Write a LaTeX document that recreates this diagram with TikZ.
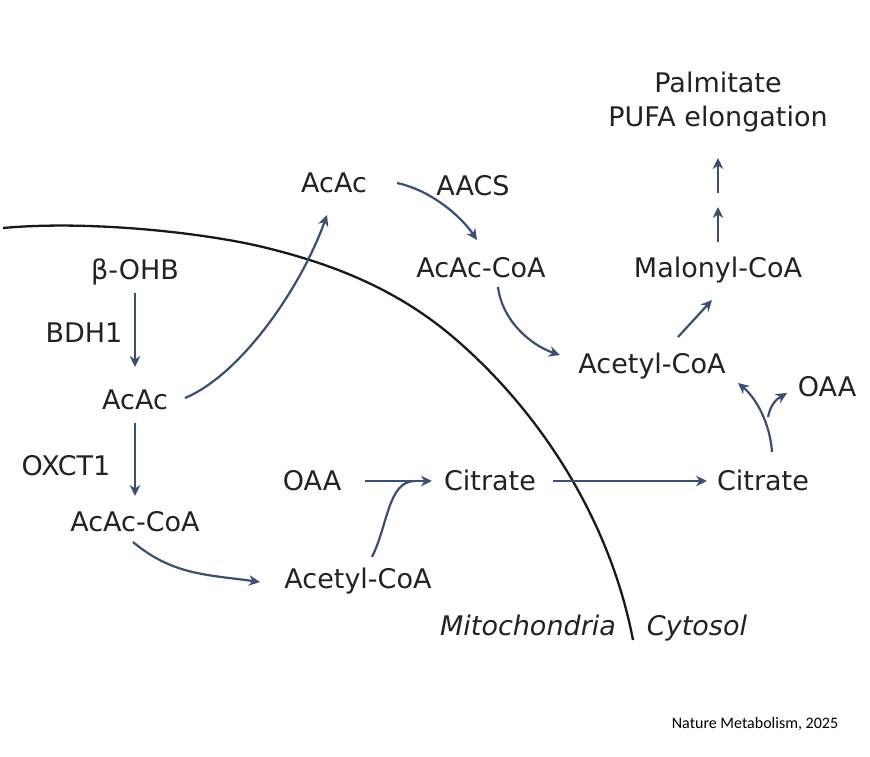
\documentclass[tikz,border=0pt]{standalone}
\usepackage{fontspec}
\setmainfont{DejaVu Sans}
\newfontfamily\footfont{Carlito}
\usetikzlibrary{arrows.meta,calc}
\definecolor{arrowc}{HTML}{3B4F6E}
\definecolor{txtc}{HTML}{222222}
\begin{document}
\begin{tikzpicture}[x=1pt,y=-1pt,
  lbl/.style={inner sep=0pt, outer sep=0pt, text height=19.7pt, text depth=0pt,
    font=\fontsize{27}{32}\selectfont, text=txtc},
  arr/.style={draw=arrowc, line width=2.2pt, -{Stealth[length=11pt,width=10.5pt,inset=3.5pt]}},
  plain/.style={draw=arrowc, line width=2.2pt},
  membrane/.style={draw=black!90, line width=2.3pt}]
\useasboundingbox[fill=white] (0,0) rectangle (870,757);

% membrane
\draw[membrane] (3,228) .. controls (90,220) and (207,233) .. (267,248)
  .. controls (327,263) and (393,286) .. (453,337)
  .. controls (540,411) and (610,520) .. (633,640);

% nodes
\node[lbl] (palm) at (718,83) {Palmitate};
\node[lbl] (pufa) at (718,117) {PUFA elongation};
\node[lbl] (mal) at (718,268) {Malonyl-CoA};
\node[lbl] (acetC) at (652,364) {Acetyl-CoA};
\node[lbl] (acacoaC) at (481,268) {AcAc-CoA};
\node[lbl] (aacs) at (473,186) {AACS};
\node[lbl] (acacT) at (334,183) {AcAc};
\node[lbl] (oaaC) at (827,387) {OAA};
\node[lbl] (citC) at (763,481) {Citrate};
\node[lbl] (citM) at (490,481) {Citrate};
\node[lbl] (oaaM) at (312,481) {OAA};
\node[lbl] (acetM) at (358,579) {Acetyl-CoA};
\node[lbl] (acacoaM) at (135,522) {AcAc-CoA};
\node[lbl] (oxct) at (66,466) {OXCT1};
\node[lbl] (acacM) at (135,400) {AcAc};
\node[lbl] (bdh) at (84,333) {BDH1};
\node[lbl] (ohb) at (135,270) {β-OHB};
\node[lbl, font=\fontsize{27}{32}\selectfont\itshape] (mito) at (528,626) {Mitochondria};
\node[lbl, font=\fontsize{27}{32}\selectfont\itshape] (cyto) at (697,626) {Cytosol};
\node[inner sep=0pt, text height=10.5pt, text depth=0pt, font=\footfont\fontsize{16}{19}\selectfont, text=black] (foot) at (755,723) {Nature Metabolism, 2025};

% mitochondrial arrows
\draw[arr] ($(ohb)+(0,23)$) -- ($(acacM)+(0,-33)$);
\draw[arr] ($(acacM)+(0,23)$) -- ($(acacoaM)+(0,-26)$);
\draw[arr] ($(acacoaM)+(-2,20)$) to[out=-40, in=172] ($(acetM)+(-98,3)$);
\draw[arr] ($(oaaM)+(53,0)$) -- ($(citM)+(-58,0)$);
\draw[plain] ($(acetM)+(14,-22)$) .. controls ($(acetM)+(30,-54)$) and ($(citM)+(-102,0)$) .. ($(citM)+(-75,0)$);
\draw[arr] ($(citM)+(63,0)$) -- ($(citC)+(-56,0)$);

% AcAc export
\draw[arr] ($(acacM)+(50,-2)$) .. controls ($(acacM)+(105,-25)$) and ($(acacT)+(-34,107)$) .. ($(acacT)+(-7,32)$);

% cytosolic arrows
\draw[arr] ($(acacT)+(63,0)$) .. controls ($(acacT)+(96,7)$) and ($(acacoaC)+(-21,-53)$) .. ($(acacoaC)+(-4,-28)$);
\draw[arr] ($(acacoaC)+(17,19)$) .. controls ($(acacoaC)+(21,52)$) and ($(acetC)+(-122,-19)$) .. ($(acetC)+(-92,-9)$);
\draw[arr] ($(acetC)+(26,-27)$) -- ($(mal)+(-6,32)$);
\draw[arr] ($(mal)+(0,-26)$) -- ($(mal)+(0,-61)$);
\draw[arr] ($(pufa)+(0,76)$) -- ($(pufa)+(0,41)$);

% citrate split
\draw[arr] ($(citC)+(9,-29)$) .. controls ($(citC)+(7,-58)$) and ($(acetC)+(104,34)$) .. ($(acetC)+(86,19)$);
\draw[arr] ($(citC)+(5,-64)$) .. controls ($(citC)+(8,-78)$) and ($(oaaC)+(-50,12)$) .. ($(oaaC)+(-40,6)$);
\end{tikzpicture}
\end{document}
